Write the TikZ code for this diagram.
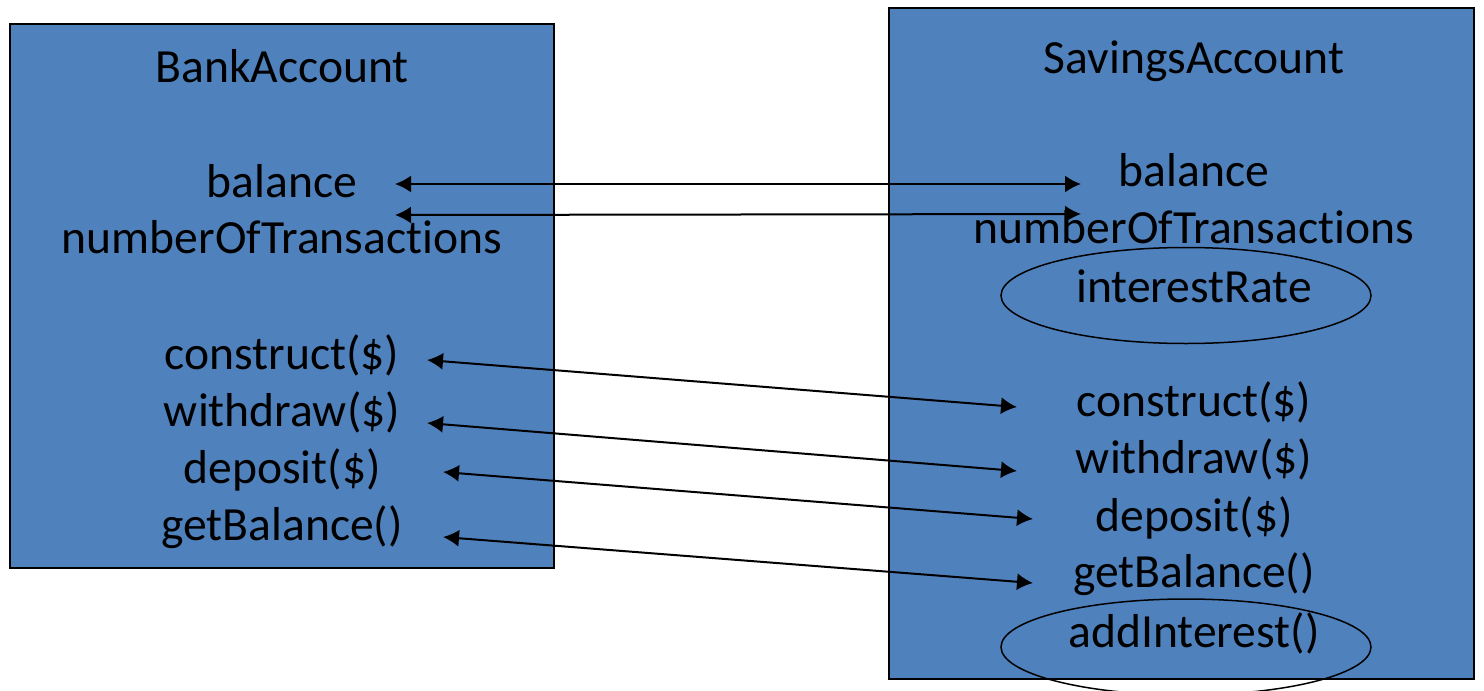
\documentclass[tikz,border=0pt]{standalone}
\usepackage{fontspec}
\setmainfont{Carlito}[Ligatures=NoCommon]
\usetikzlibrary{arrows.meta,shapes.geometric,positioning}
\definecolor{acFill}{HTML}{4F81BD}
\tikzset{
  classbox/.style={draw=black, line width=1pt, fill=acFill, inner sep=0pt},
  member/.style={font=\fontsize{23.8}{28}\selectfont, inner sep=0pt, anchor=base},
  link/.style={{Latex[length=8pt,width=8.5pt]}-{Latex[length=8pt,width=8.5pt]}, line width=1pt},
  newpart/.style={draw, ellipse, line width=0.75pt, inner sep=0pt,
    minimum width=185pt, minimum height=48pt}
}

\begin{document}
\begin{tikzpicture}[x=0.5pt, y=-0.5pt]
  \useasboundingbox (0,0) rectangle (1484,691);
  % the two classes
  \node[classbox, minimum width=272pt, minimum height=272pt] (bank) at (282,296) {};
  \node[classbox, minimum width=292.5pt, minimum height=335.5pt] (sav) at (1181.5,343.5) {};

  \node[member] (lname)  at (282,82)  {BankAccount};
  \node[member] (lbal)   at (282,197) {balance};
  \node[member] (ltrans) at (282,253) {numberOfTransact\kern0pt ions};
  \node[member] (lcons)  at (282,369) {construct(\$)};
  \node[member] (lwith)  at (282,426) {withdraw(\$)};
  \node[member] (ldep)   at (282,483) {deposit(\$)};
  \node[member] (lget)   at (282,540) {getBalance()};

  \node[member] (rname)  at (1194,73)  {SavingsAccount};
  \node[member] (rbal)   at (1194,186) {balance};
  \node[member] (rtrans) at (1194,243) {numberOfTransact\kern0pt ions};
  \node[member] (rrate)  at (1194,302) {interestRate};
  \node[member] (rcons)  at (1194,416) {construct(\$)};
  \node[member] (rwith)  at (1194,473) {withdraw(\$)};
  \node[member] (rdep)   at (1194,531) {deposit(\$)};
  \node[member] (rget)   at (1194,587) {getBalance()};
  \node[member] (radd)   at (1194,647) {addInterest()};

  % what SavingsAccount adds
  \node[newpart] (erate) at (1186,295.5) {};
  \node[newpart] (eadd)  at (1186,647) {};

  % inherited members
  \coordinate (la) at (395,184);  \coordinate (ra) at (1081,184);
  \coordinate (lb) at (395,215);  \coordinate (rb) at (1081,214);
  \coordinate (lc) at (427,360);  \coordinate (rc) at (1017,407);
  \coordinate (ld) at (427,423);  \coordinate (rd) at (1017,471);
  \coordinate (le) at (443,472);  \coordinate (re) at (1033,519);
  \coordinate (lf) at (443,537);  \coordinate (rf) at (1033,583);
  \foreach \a in {a,b,c,d,e,f}{\draw[link] (l\a) -- (r\a);}
\end{tikzpicture}
\end{document}
